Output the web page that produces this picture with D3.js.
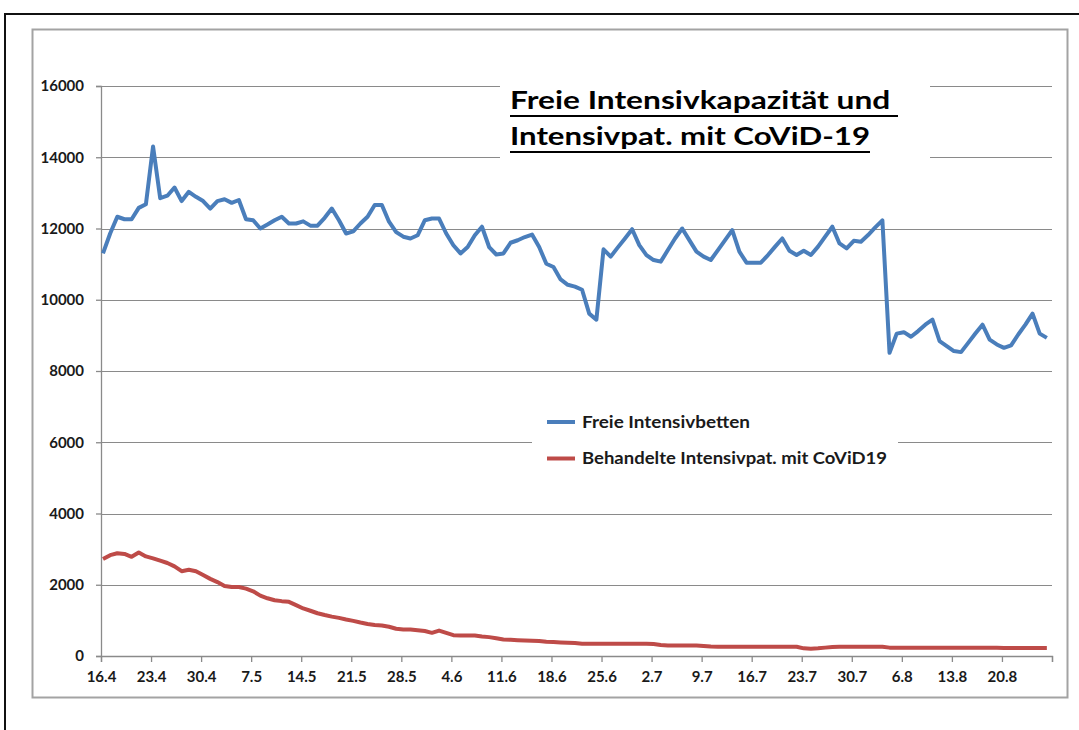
<!DOCTYPE html>
<html>
<head>
<meta charset="utf-8">
<script src="https://cdn.jsdelivr.net/npm/d3@7"></script>
<style>
  body { margin: 0; background: #fff; }
  text { font-family: Lato, "Open Sans", sans-serif; font-weight: bold; fill: #1a1a1a; }
</style>
</head>
<body>
<div id="chart-area"></div>
<script>

// Daily values from 16.4 on (one value per day)
var startDate = "16.4.2020";

var freieBetten = [
    11300, 11860, 12330, 12260, 12260, 12580, 12680, 14300, 12850, 12920,
    13150, 12770, 13030, 12890, 12770, 12560, 12770, 12820, 12720, 12800,
    12260, 12230, 12000, 12110, 12230, 12330, 12140, 12140, 12200, 12080,
    12080, 12300, 12560, 12230, 11860, 11920, 12140, 12330, 12660, 12660,
    12190, 11900, 11770, 11720, 11810, 12230, 12280, 12280, 11860, 11530,
    11300, 11480, 11810, 12050, 11480, 11270, 11300, 11600, 11670, 11760,
    11830, 11480, 11010, 10920, 10570, 10420, 10370, 10280, 9610, 9440,
    11415, 11210, 11470, 11720, 11980, 11535, 11255, 11115, 11070, 11395,
    11720, 12000, 11675, 11350, 11210, 11115, 11395, 11675, 11955, 11350,
    11040, 11040, 11040, 11255, 11490, 11720, 11375, 11255, 11375, 11255,
    11490, 11770, 12050, 11580, 11440, 11655, 11630, 11815, 12030, 12230,
    8510, 9050, 9090, 8960, 9120, 9300, 9440, 8840, 8700, 8560,
    8530, 8790, 9050, 9300, 8880, 8745, 8650, 8720, 9025, 9300,
    9610, 9050, 8930
];

var covidPatienten = [
    2720, 2830, 2885, 2865, 2785, 2905, 2795, 2740, 2675, 2610,
    2515, 2380, 2420, 2380, 2275, 2165, 2075, 1965, 1935, 1935,
    1890, 1815, 1695, 1620, 1565, 1540, 1520, 1430, 1335, 1270,
    1200, 1150, 1105, 1070, 1025, 985, 940, 900, 870, 855,
    820, 765, 745, 745, 725, 700, 650, 715, 650, 585,
    575, 575, 575, 550, 530, 500, 465, 455, 445, 437,
    428, 420, 400, 390, 380, 372, 363, 345, 345, 345,
    345, 345, 345, 345, 345, 345, 345, 335, 307, 298,
    298, 298, 298, 298, 280, 265, 262, 260, 260, 260,
    260, 260, 260, 260, 260, 260, 260, 260, 215, 205,
    215, 235, 250, 260, 260, 260, 260, 260, 260, 260,
    235, 235, 235, 235, 235, 235, 235, 235, 232, 232,
    232, 232, 230, 230, 230, 230, 228, 228, 228, 228,
    228, 228, 228
];

var tickLabels = ["16.4", "23.4", "30.4", "7.5", "14.5", "21.5", "28.5", "4.6", "11.6", "18.6",
    "25.6", "2.7", "9.7", "16.7", "23.7", "30.7", "6.8", "13.8", "20.8"];

var yTicks = [0, 2000, 4000, 6000, 8000, 10000, 12000, 14000, 16000];

var titleLines = ["Freie Intensivkapazität und ", "Intensivpat. mit CoViD-19"];

var seriesNames = ["Freie Intensivbetten", "Behandelte Intensivpat. mit CoViD19"];
var seriesColors = ["#4a7ebb", "#be4b48"];

var parseDate = d3.timeParse("%d.%m.%Y");

var plot = {left: 101, right: 1052, top: 86, bottom: 656};

var svg = d3.select("#chart-area")
    .append("svg")
        .attr("width", 1079)
        .attr("height", 730);

// Outer black frame (only top and left are visible in the picture)
svg.append("path")
    .attr("d", "M5,730 L5,14 L1079,14")
    .attr("fill", "none")
    .attr("stroke", "#111")
    .attr("stroke-width", 2);

// Chart area frame
svg.append("rect")
    .attr("x", 32.5)
    .attr("y", 29.5)
    .attr("width", 1035)
    .attr("height", 668)
    .attr("fill", "#fff")
    .attr("stroke", "#a3a3a3")
    .attr("stroke-width", 2);

var start = parseDate(startDate);
var dates = d3.timeDay.range(start, d3.timeDay.offset(start, freieBetten.length));

// X Scale (one more day at the end, like the axis in the picture)
var x = d3.scaleTime()
    .domain([start, d3.timeDay.offset(start, freieBetten.length)])
    .range([plot.left, plot.right]);

// Y Scale
var y = d3.scaleLinear()
    .domain([0, 16000])
    .range([plot.bottom, plot.top]);

// Gridlines
svg.append("g")
    .selectAll("line")
    .data(yTicks.filter(function (d) { return d > 0; }))
    .enter()
    .append("line")
        .attr("x1", plot.left)
        .attr("x2", plot.right)
        .attr("y1", function (d) { return Math.round(y(d)) + 0.5; })
        .attr("y2", function (d) { return Math.round(y(d)) + 0.5; })
        .attr("stroke", "#8a8a8a")
        .attr("stroke-width", 1);

// Title box covers the gridlines behind it
svg.append("rect")
    .attr("x", 500).attr("y", 70)
    .attr("width", 430).attr("height", 96)
    .attr("fill", "#fff");

var titleWidths = [388, 360];
titleLines.forEach(function (t, i) {
    var by = 109 + i * 36;
    svg.append("text")
        .attr("x", 510)
        .attr("y", by)
        .attr("font-size", "25px")
        .attr("textLength", titleWidths[i])
        .attr("lengthAdjust", "spacingAndGlyphs")
        .style("fill", "#000")
        .style("white-space", "pre")
        .text(t);
    svg.append("line")
        .attr("x1", 510)
        .attr("x2", 510 + titleWidths[i])
        .attr("y1", by + 7)
        .attr("y2", by + 7)
        .attr("stroke", "#000")
        .attr("stroke-width", 2);
});

// Legend box
svg.append("rect")
    .attr("x", 532).attr("y", 400)
    .attr("width", 366).attr("height", 80)
    .attr("fill", "#fff");

var legendWidths = [168, 305];
seriesNames.forEach(function (name, i) {
    var ly = 422 + i * 36.5;
    svg.append("line")
        .attr("x1", 547).attr("x2", 575)
        .attr("y1", ly).attr("y2", ly)
        .attr("stroke", seriesColors[i])
        .attr("stroke-width", 4);
    svg.append("text")
        .attr("x", 582)
        .attr("y", ly + 5.5)
        .attr("font-size", "17px")
        .attr("textLength", legendWidths[i])
        .attr("lengthAdjust", "spacingAndGlyphs")
        .text(name);
});

// Y Axis
var yAxisCall = d3.axisLeft(y)
    .tickValues(yTicks)
    .tickFormat(d3.format("d"))
    .tickSize(5)
    .tickPadding(12);
var yAxisGroup = svg.append("g")
    .attr("class", "y axis")
    .attr("transform", "translate(" + plot.left + ",0)")
    .call(yAxisCall);

// X Axis
var tickDates = tickLabels.map(function (l) { return parseDate(l + ".2020"); });
var xAxisCall = d3.axisBottom(x)
    .tickValues(tickDates.concat([x.domain()[1]]))
    .tickSize(6)
    .tickPadding(9)
    .tickFormat(function (d, i) { return i < tickLabels.length ? tickLabels[i] : ""; });
var xAxisGroup = svg.append("g")
    .attr("class", "x axis")
    .attr("transform", "translate(0," + plot.bottom + ")")
    .call(xAxisCall);

[yAxisGroup, xAxisGroup].forEach(function (g) {
    g.select(".domain").attr("stroke", "#8a8a8a").attr("stroke-width", 1.3);
    g.selectAll(".tick line").attr("stroke", "#8a8a8a").attr("stroke-width", 1.3);
    g.selectAll(".tick text")
        .attr("font-size", "15px")
        .style("font-family", "Lato, 'Open Sans', sans-serif")
        .style("font-weight", "bold")
        .style("fill", "#1a1a1a");
});

// Lines
var line = d3.line()
    .x(function (d, i) { return x(dates[i]) + 2; })
    .y(function (d) { return y(d); });

[freieBetten, covidPatienten].forEach(function (values, i) {
    svg.append("path")
        .datum(values)
        .attr("d", line)
        .attr("fill", "none")
        .attr("stroke", seriesColors[i])
        .attr("stroke-width", 4)
        .attr("stroke-linejoin", "round");
});

</script>
</body>
</html>
